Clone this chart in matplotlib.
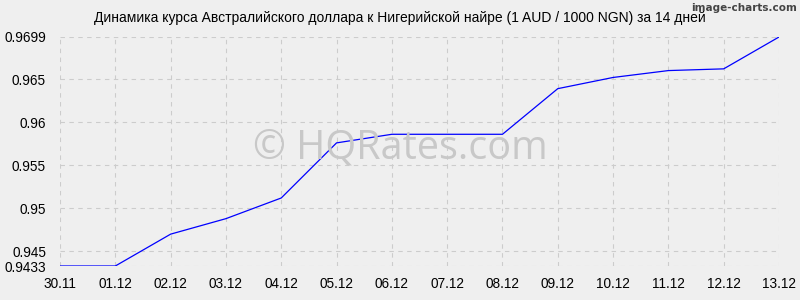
import matplotlib
matplotlib.use("Agg")
import matplotlib.pyplot as plt

dates = ["30.11", "01.12", "02.12", "03.12", "04.12", "05.12", "06.12",
         "07.12", "08.12", "09.12", "10.12", "11.12", "12.12", "13.12"]
rates = [0.9433, 0.9433, 0.9470, 0.9488, 0.9512, 0.9576, 0.9586,
         0.9586, 0.9586, 0.9639, 0.9652, 0.9660, 0.9662, 0.9699]
y_ticks = [0.9433, 0.945, 0.95, 0.955, 0.96, 0.965, 0.9699]
y_tick_labels = ["0.9433", "0.945", "0.95", "0.955", "0.96", "0.965", "0.9699"]
title = "Динамика курса Австралийского доллара к Нигерийской найре (1 AUD / 1000 NGN) за 14 дней"

plt.rcParams['font.family'] = ['Liberation Sans', 'DejaVu Sans']
bg = "#efefef"
fig = plt.figure(figsize=(8, 3), dpi=100, facecolor=bg)
ax = fig.add_axes([60/800, 1-266/300, (779-60)/800, (266-37)/300], facecolor=bg)

x = list(range(len(dates)))
ax.plot(x, rates, color="#0000ff", lw=0.9, zorder=3)

ax.set_xlim(0, len(dates)-1)
ax.set_ylim(min(y_ticks), max(y_ticks))
ax.set_xticks(x)
ax.set_xticklabels(dates, fontsize=9.8)
ax.set_yticks(y_ticks)
ax.set_yticklabels(y_tick_labels, fontsize=9.8)
ax.tick_params(axis="x", length=0, pad=8, colors="#000000")
ax.tick_params(axis="y", length=0, pad=10, colors="#000000")
ax.grid(True, color="#cccccc", linestyle=(0, (4, 4)), lw=0.8)
for s in ax.spines.values():
    s.set_visible(False)

fig.text(0.5, 1-18/300, title, ha="center", va="center", fontsize=10)
fig.text(0.996, 1-8/300, "image-charts.com", ha="right", va="center",
         fontsize=7.5, family=["Liberation Sans Narrow", "DejaVu Sans"],
         weight="bold", color="#444444")
fig.text(0.5, 1-148/300, "© HQRates.com", ha="center",
         va="center", fontsize=28.5, color="#c8c8c8", family="Open Sans", zorder=1)

fig.savefig("out.png", dpi=100, facecolor=bg)
